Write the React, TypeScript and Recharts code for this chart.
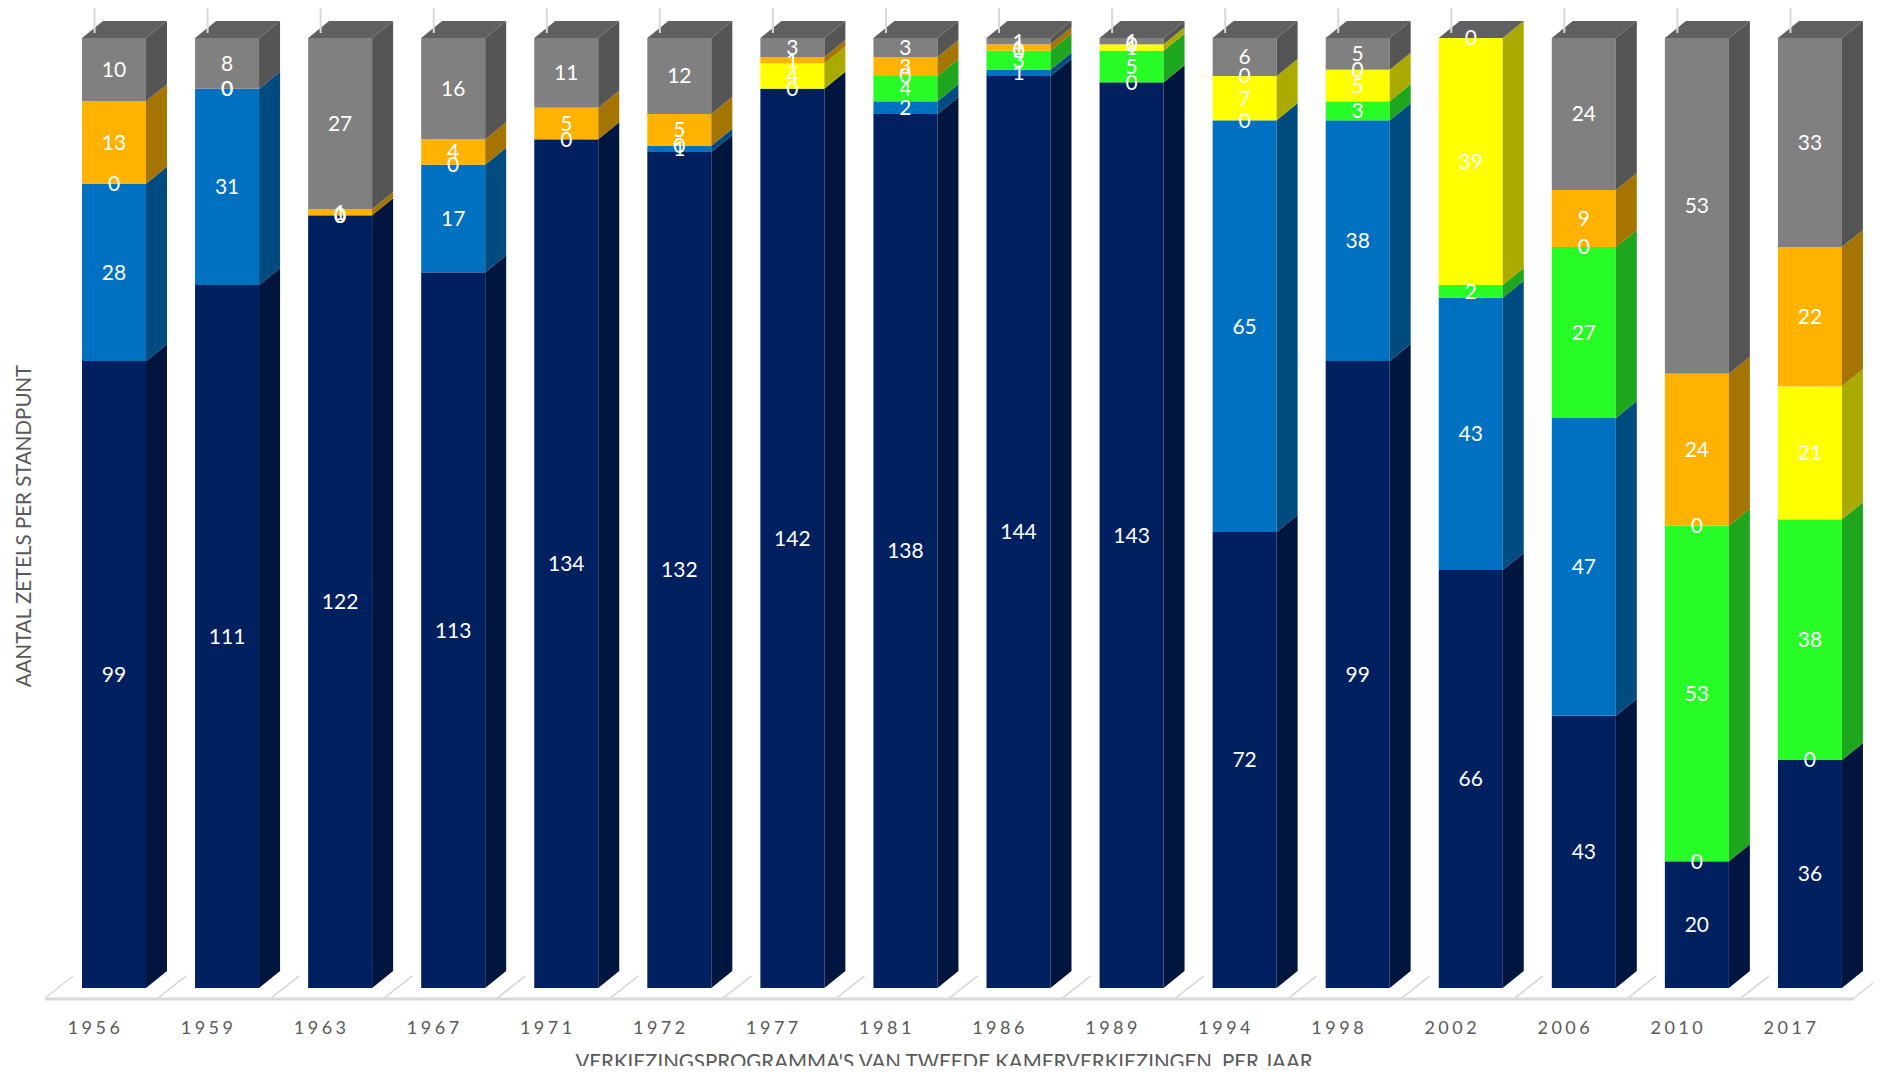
import { BarChart, Bar, XAxis, YAxis, LabelList } from "recharts";

// jaren en zetels per standpunt (onder naar boven)
const years = ["1956", "1959", "1963", "1967", "1971", "1972", "1977", "1981", "1986", "1989", "1994", "1998", "2002", "2006", "2010", "2017"];
const navy = [99, 111, 122, 113, 134, 132, 142, 138, 144, 143, 72, 99, 66, 43, 20, 36];
const blue = [28, 31, 0, 17, 0, 1, 0, 2, 1, 0, 65, 38, 43, 47, 0, 0];
const green = [0, 0, 0, 0, null, 0, null, 4, 3, 5, 0, 3, 2, 27, 53, 38];
const yellow = [null, 0, 0, null, null, null, 4, 0, 0, 1, 7, 5, 39, 0, 0, 21];
const orange = [13, null, 1, 4, 5, 5, 1, 3, 1, 0, 0, 0, null, 9, 24, 22];
const gray = [10, 8, 27, 16, 11, 12, 3, 3, 1, 1, 6, 5, 0, 24, 53, 33];

const data = years.map((year, i) => ({
  year,
  navy: navy[i],
  blue: blue[i],
  green: green[i],
  yellow: yellow[i],
  orange: orange[i],
  gray: gray[i]
}));

const series = [
  { key: "navy", front: "#002060", side: "#00163f" },
  { key: "blue", front: "#0070c0", side: "#004b80" },
  { key: "green", front: "#27fc27", side: "#1ea61e" },
  { key: "yellow", front: "#ffff00", side: "#aaaa00" },
  { key: "orange", front: "#ffb300", side: "#a67400" },
  { key: "gray", front: "#808080", side: "#555555" }
];

const FONT = "Lato, 'Open Sans', sans-serif";
const DX = 21;
const DY = 17;

function makeShape(front: string, side: string, top: boolean) {
  return (props: any) => {
    const { x, y, width, height } = props;
    if (x == null || y == null) return <g />;
    const h = Math.max(0, height || 0);
    return (
      <g>
        <rect x={x} y={y} width={width} height={h} fill={front} />
        <polygon
          points={`${x + width},${y} ${x + width + DX},${y - DY} ${x + width + DX},${y + h - DY} ${x + width},${y + h}`}
          fill={side}
        />
        {top && (
          <polygon
            points={`${x},${y} ${x + DX},${y - DY} ${x + width + DX},${y - DY} ${x + width},${y}`}
            fill="#606060"
          />
        )}
      </g>
    );
  };
}

function YearTick(props: any) {
  const { x, y, payload } = props;
  const band = 113;
  const left = x - band / 2;
  const f = y + 10; // voorrand vloer
  return (
    <g>
      <line x1={x - 19} y1={0} x2={x - 19} y2={y - 955} stroke="#d9d9d9" strokeWidth={2} />
      <line x1={left - 12} y1={f} x2={left + 16} y2={f - 22} stroke="#d9d9d9" strokeWidth={1.5} />
      <line x1={left + band - 12} y1={f} x2={left + band + 16} y2={f - 22} stroke="#d9d9d9" strokeWidth={1.5} />
      <line x1={left - 12} y1={f + 1} x2={left + band - 12} y2={f + 1} stroke="#d9d9d9" strokeWidth={3} />
      <text x={x - 18} y={y + 46} textAnchor="middle" fill="#595959" fontSize={18} letterSpacing={3.5}
        fontFamily={FONT}>
        {payload.value}
      </text>
    </g>
  );
}

export default function App() {
  return (
    <div style={{ margin: -8, width: 1881, height: 1074, background: "#fff" }}>
      <BarChart
        width={1881}
        height={1074}
        data={data}
        margin={{ top: 38, right: 15, left: 0, bottom: 0 }}
        barSize={64}
      >
        <XAxis
          dataKey="year"
          axisLine={false}
          tickLine={false}
          tickSize={0}
          tickMargin={0}
          interval={0}
          height={86}
          tick={<YearTick />}
          label={{
            content: () => (
              <text x={944} y={1069} textAnchor="middle" fill="#595959" fontSize={20.5} fontFamily={FONT}>
                VERKIEZINGSPROGRAMMA'S VAN TWEEDE KAMERVERKIEZINGEN, PER JAAR
              </text>
            )
          }}
        />
        <YAxis
          domain={[0, 150]}
          width={57}
          tick={false}
          axisLine={false}
          tickLine={false}
          label={{
            content: () => (
              <text x={31} y={526} transform="rotate(-90 31 526)" textAnchor="middle" fill="#595959"
                fontSize={20.5} fontFamily={FONT}>
                AANTAL ZETELS PER STANDPUNT
              </text>
            )
          }}
        />
        {series.map((s) => (
          <Bar
            key={s.key}
            dataKey={s.key}
            stackId="a"
            isAnimationActive={false}
            shape={makeShape(s.front, s.side, s.key === "gray")}
          >
            <LabelList
              dataKey={s.key}
              position="center"
              fill="#ffffff"
              fontSize={21}
              fontFamily={FONT}
            />
          </Bar>
        ))}
      </BarChart>
    </div>
  );
}
